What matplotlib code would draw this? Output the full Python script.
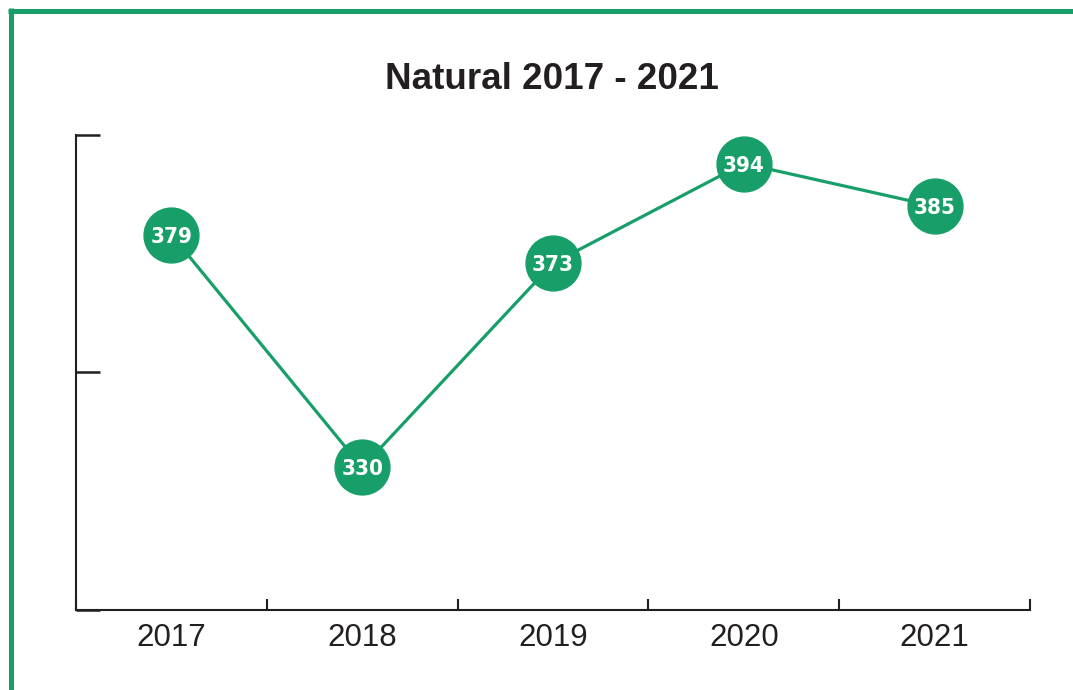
import matplotlib
matplotlib.use("Agg")
import matplotlib.pyplot as plt
from matplotlib.lines import Line2D

years = ["2017", "2018", "2019", "2020", "2021"]
values = [379, 330, 373, 394, 385]
title = "Natural 2017 - 2021"

green = "#189f69"
dark = "#231f20"

fig = plt.figure(figsize=(10.73, 6.9), dpi=100)
ax = fig.add_axes([76/1073, 1-610/690, (1030-76)/1073, (610-135)/690])

x = list(range(len(years)))
ax.plot(x, values, color=green, lw=2.3, marker="o", markersize=39.5,
        markerfacecolor=green, markeredgecolor=green, zorder=3)
for xi, v in zip(x, values):
    ax.text(xi, v, str(v), ha="center", va="center_baseline", color="white",
            fontsize=16, fontweight="bold", fontstretch="condensed",
            family="DejaVu Sans", zorder=4)

ax.set_xlim(-0.5, len(years) - 0.5)
ax.set_ylim(300, 400)
ax.set_yticks([300, 350, 400])
ax.set_yticklabels([])
ax.set_xticks([i + 0.5 for i in range(-1, len(years))], minor=False)
ax.set_xticklabels([])
ax.set_xticks(x, minor=True)
ax.set_xticklabels(years, minor=True)
ax.tick_params(axis="x", which="major", direction="in", length=8, width=1.5, color=dark)
ax.tick_params(axis="x", which="minor", length=0, pad=9, labelsize=22.5, labelcolor=dark)
ax.tick_params(axis="y", direction="in", length=17.5, width=1.8, color=dark)
for lab in ax.get_xticklabels(minor=True):
    lab.set_family(["Liberation Sans", "DejaVu Sans"])

for s in ["top", "right"]:
    ax.spines[s].set_visible(False)
for s in ["left", "bottom"]:
    ax.spines[s].set_color(dark)
    ax.spines[s].set_linewidth(1.5)

fig.text(552/1073, 1-89/690, title, ha="center", va="baseline", fontsize=26.5,
         fontweight="bold", color=dark, family=["Liberation Sans", "DejaVu Sans"])

# green frame
fig.add_artist(Line2D([8/1073, 1], [1-10.5/690, 1-10.5/690], color=green, lw=3.6,
                      transform=fig.transFigure, solid_capstyle="butt"))
fig.add_artist(Line2D([10.5/1073, 10.5/1073], [0, 1-8/690], color=green, lw=3.6,
                      transform=fig.transFigure, solid_capstyle="butt"))

fig.savefig("out.png", dpi=100)
